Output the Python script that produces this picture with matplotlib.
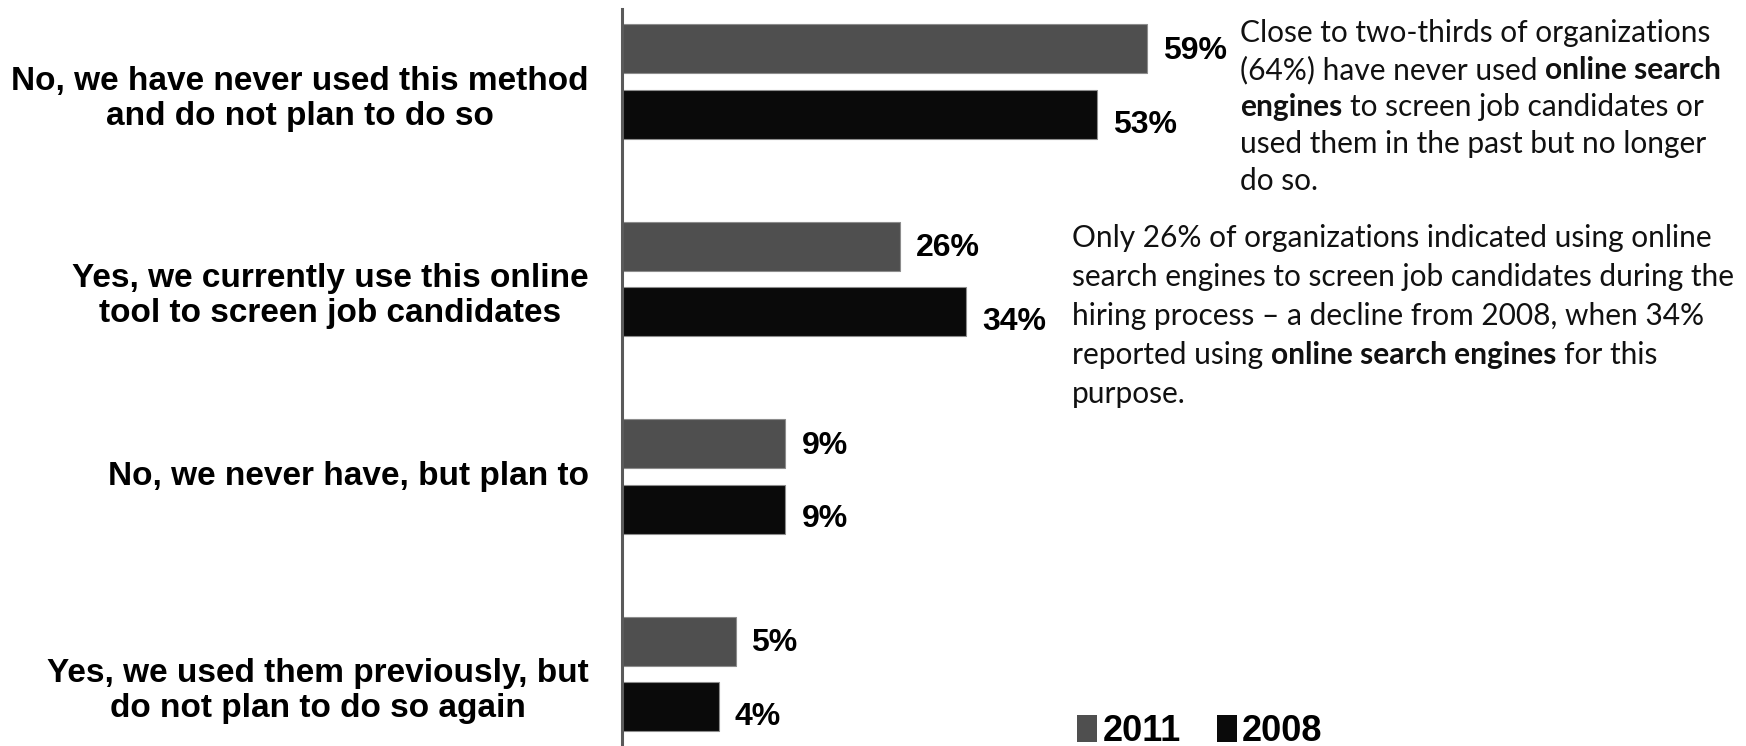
import numpy as np
import matplotlib.pyplot as plt
from matplotlib.patches import Patch

categories = [
    "No, we have never used this method\nand do not plan to do so",
    "Yes, we currently use this online\ntool to screen job candidates",
    "No, we never have, but plan to",
    "Yes, we used them previously, but\ndo not plan to do so again",
]
series = ["2011", "2008"]
pct_2011 = [59, 26, 9, 5]
pct_2008 = [53, 34, 9, 4]
# bar lengths as they are drawn in the source (they are not to scale with the labels)
bar_2011 = [59.0, 31.3, 18.4, 12.8]
bar_2008 = [53.4, 38.7, 18.4, 10.9]

note_top = [
    "Close to two-thirds of organizations",
    "(64%) have never used **online search**",
    "**engines** to screen job candidates or",
    "used them in the past but no longer",
    "do so.",
]
note_bottom = [
    "Only 26% of organizations indicated using online",
    "search engines to screen job candidates during the",
    "hiring process \u2013 a decline from 2008, when 34%",
    "reported using **online search engines** for this",
    "purpose.",
]

colors = ["#4f4f4f", "#0a0a0a"]
W, H = 1746, 746
BOLD = "Liberation Sans"
NOTE_FONT = "Lato"
NOTE_SIZE = 21.5
GROUP_PX = 197.4   # pixels between category centres

fig = plt.figure(figsize=(W / 100, H / 100), dpi=100)
ax = fig.add_axes((621.5 / W, 0, 1 - 621.5 / W, 1 - 9 / H))

y = np.arange(len(categories))
off = 0.1665
bh = 0.248
b1 = ax.barh(y - off, bar_2011, height=bh, color=colors[0], edgecolor="#8c8c8c", linewidth=0.8)
b2 = ax.barh(y + off, bar_2008, height=bh, color=colors[1], edgecolor="#8c8c8c", linewidth=0.8)

ax.set_xlim(0, 126.25)
ax.set_ylim(3.365, -0.368)
ax.set_xticks([])
ax.set_yticks([])
for s in ["top", "right", "bottom"]:
    ax.spines[s].set_visible(False)
ax.spines["left"].set_color("#5a5a5a")
ax.spines["left"].set_linewidth(2.2)

# value labels
for bars, pcts, dy in [(b1, pct_2011, -2), (b2, pct_2008, -10)]:
    for rect, p in zip(bars, pcts):
        ax.annotate(f"{p}%", xy=(rect.get_width(), rect.get_y() + rect.get_height() / 2),
                    xytext=(16, dy), textcoords="offset pixels", ha="left", va="center",
                    fontsize=23, fontweight="bold", family=BOLD)

# category labels (baseline of the last line)
for i, lab in enumerate(categories):
    n = lab.count("\n")
    ax.text(-33 / 1124.5, i + (8 + 35 * n) / GROUP_PX, lab, transform=ax.get_yaxis_transform(),
            ha="right", va="baseline", multialignment="center",
            fontsize=24, fontweight="bold", family=BOLD, linespacing=1.17)

# notes with bold fragments
r = fig.canvas.get_renderer()


def text_w(s, weight):
    t = fig.text(0, 0, s, fontsize=NOTE_SIZE, family=NOTE_FONT, fontweight=weight)
    w = t.get_window_extent(renderer=r).width
    t.remove()
    return w


space = text_w("a a", "normal") - text_w("aa", "normal")


def draw_note(lines, x0, y0, pitch):
    for k, line in enumerate(lines):
        x = x0
        yy = 1 - (y0 + k * pitch) / H
        parts = line.split("**")
        for j, part in enumerate(parts):
            part = part.strip()
            if not part:
                continue
            w = "bold" if j % 2 else "normal"
            t = fig.text(x / W, yy, part, fontsize=NOTE_SIZE, family=NOTE_FONT,
                         fontweight=w, ha="left", va="baseline", color="#111111")
            x += t.get_window_extent(renderer=r).width + space


draw_note(note_top, 1240, 42, 37)
draw_note(note_bottom, 1072, 247, 39)

handles = [Patch(facecolor=c) for c in colors]
fig.legend(handles, series, loc="lower left", bbox_to_anchor=(1077 / W, -0.004), ncol=2,
           frameon=False, prop=dict(family=BOLD, weight="bold", size=26),
           handlelength=0.55, handleheight=0.8, handletextpad=0.15,
           columnspacing=1.0, borderpad=0, borderaxespad=0)

fig.savefig("out.png", dpi=100)
